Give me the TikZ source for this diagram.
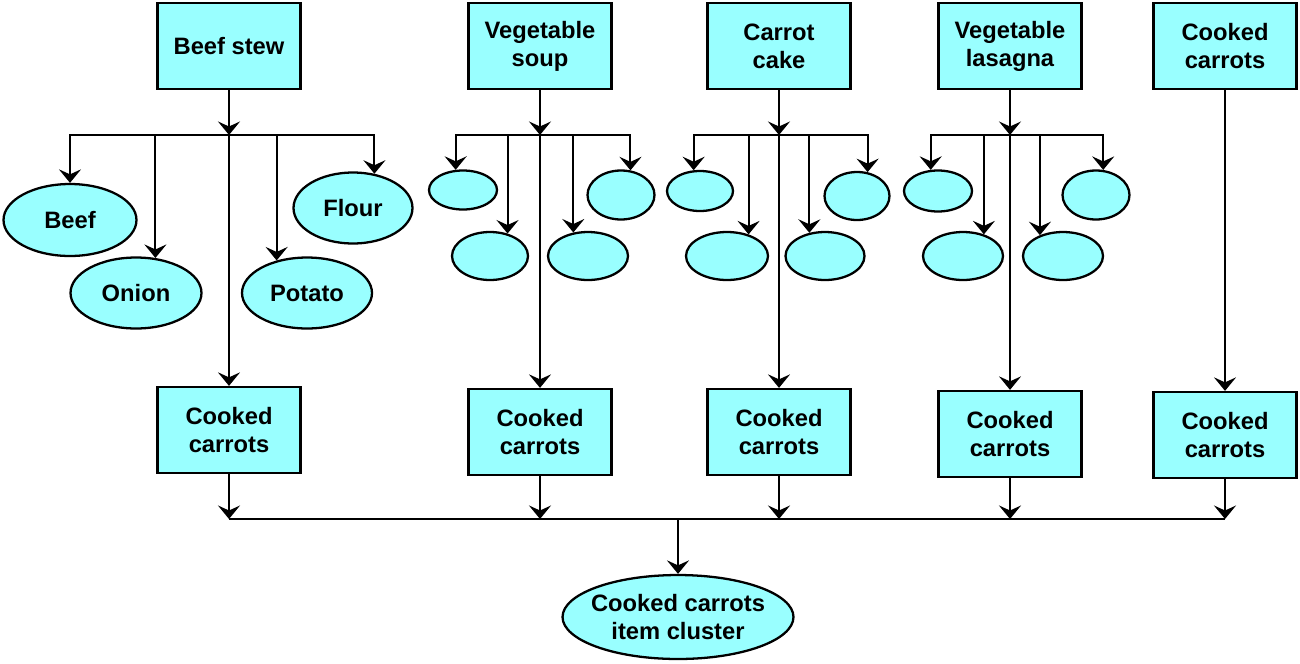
\documentclass[tikz,border=0pt]{standalone}
\usepackage{fontspec}
\setmainfont{Liberation Sans}
\usetikzlibrary{positioning}
\usetikzlibrary{shapes.geometric}
\usetikzlibrary{arrows.meta}
\definecolor{cyanlt}{RGB}{153,255,255}

\begin{document}
\begin{tikzpicture}[x=0.02cm,y=-0.02cm,
	dish/.style={draw,fill=cyanlt,line width=1.3pt,minimum width=2.86cm,minimum height=1.72cm,inner sep=0pt,align=center,font=\fontsize{13.5}{16}\selectfont\bfseries},
	part/.style 2 args={draw,fill=cyanlt,line width=1.3pt,shape=ellipse,inner sep=0pt,minimum width=#1,minimum height=#2,align=center,font=\fontsize{13.5}{16}\selectfont\bfseries},
	arr/.style={-{Stealth[length=0.27cm,width=0.44cm,inset=0.1cm]},line width=1.15pt},
	wire/.style={line width=1.15pt}]
	\useasboundingbox (0,0) rectangle (1300,663);
	%% fig a
	\node[dish] (a0) at (229,46) {Beef stew};
	\coordinate (a9) at (229,135);
	\node[part={2.66cm}{1.44cm}] (a1) at (70,220) {Beef};
	\node[part={2.62cm}{1.42cm}] (a2) at (136,293) {Onion};
	\node[part={2.60cm}{1.42cm}] (a3) at (307,293) {Potato};
	\node[part={2.38cm}{1.42cm}] (a4) at (353,208) {Flour};
	\node[dish] (a5) at (229,430) {Cooked\\carrots};
	\draw[arr] (a0) -- (a9);
	\draw[arr] (a9) -- (a5);
	\draw[arr] (a9) -| (a1.north);
	\draw[arr] (a9) -| (a2.61);
	\draw[arr] (a9) -| (a3.133);
	\draw[arr] (a9) -| (a4.58);
	%% fig b
	\node[dish] (b0) at (540,46) {Vegetable\\soup};
	\coordinate (b9) at (540,135);
	\node[part={1.36cm}{0.78cm}] (b1) at (463,190) {};
	\node[part={1.52cm}{0.96cm}] (b2) at (490,256) {};
	\node[part={1.60cm}{0.96cm}] (b3) at (588,256) {};
	\node[part={1.34cm}{0.98cm}] (b4) at (621,195) {};
	\node[dish] (b5) at (540,432) {Cooked\\carrots};
	\draw[arr] (b0) -- (b9);
	\draw[arr] (b9) -- (b5);
	\draw[arr] (b9) -| (b1.110);
	\draw[arr] (b9) -| (b2.52);
	\draw[arr] (b9) -| (b3.122);
	\draw[arr] (b9) -| (b4.69);
	%% fig c
	\node[dish] (c0) at (779,46) {Carrot\\cake};
	\coordinate (c9) at (779,135);
	\node[part={1.32cm}{0.80cm}] (c1) at (700,191) {};
	\node[part={1.64cm}{0.96cm}] (c2) at (727,256) {};
	\node[part={1.58cm}{0.96cm}] (c3) at (825,256) {};
	\node[part={1.30cm}{0.96cm}] (c4) at (857,196) {};
	\node[dish] (c5) at (779,432) {Cooked\\carrots};
	\draw[arr] (c0) -- (c9);
	\draw[arr] (c9) -- (c5);
	\draw[arr] (c9) -| (c1.107);
	\draw[arr] (c9) -| (c2.45);
	\draw[arr] (c9) -| (c3.124);
	\draw[arr] (c9) -| (c4.66);
	%% fig d
	\node[dish] (d0) at (1010,46) {Vegetable\\lasagna};
	\coordinate (d9) at (1010,135);
	\node[part={1.36cm}{0.82cm}] (d1) at (938,191) {};
	\node[part={1.60cm}{0.96cm}] (d2) at (963,256) {};
	\node[part={1.60cm}{0.96cm}] (d3) at (1063,256) {};
	\node[part={1.34cm}{0.98cm}] (d4) at (1096,195) {};
	\node[dish] (d5) at (1010,434) {Cooked\\carrots};
	\draw[arr] (d0) -- (d9);
	\draw[arr] (d9) -- (d5);
	\draw[arr] (d9) -| (d1.109);
	\draw[arr] (d9) -| (d2.46);
	\draw[arr] (d9) -| (d3.138);
	\draw[arr] (d9) -| (d4.74);
	%% fig e
	\node[dish] (e0) at (1225,46) {Cooked\\carrots};
	\node[dish] (e5) at (1225,435) {Cooked\\carrots};
	\draw[arr] (e0) -- (e5);
	% cluster
	\coordinate (f9) at (678,519);
	\node[part={4.62cm}{1.68cm},inner xsep=-0.2cm] (f) at (678,617) {Cooked carrots\\item cluster};
	\draw[wire] (a5 |- f9) -- (e5 |- f9);
	\foreach \n in {a5,b5,c5,d5,e5}
		\draw[arr] (\n) -- (\n |- f9);
	\draw[arr] (f9) -- (f);
\end{tikzpicture}
\end{document}
